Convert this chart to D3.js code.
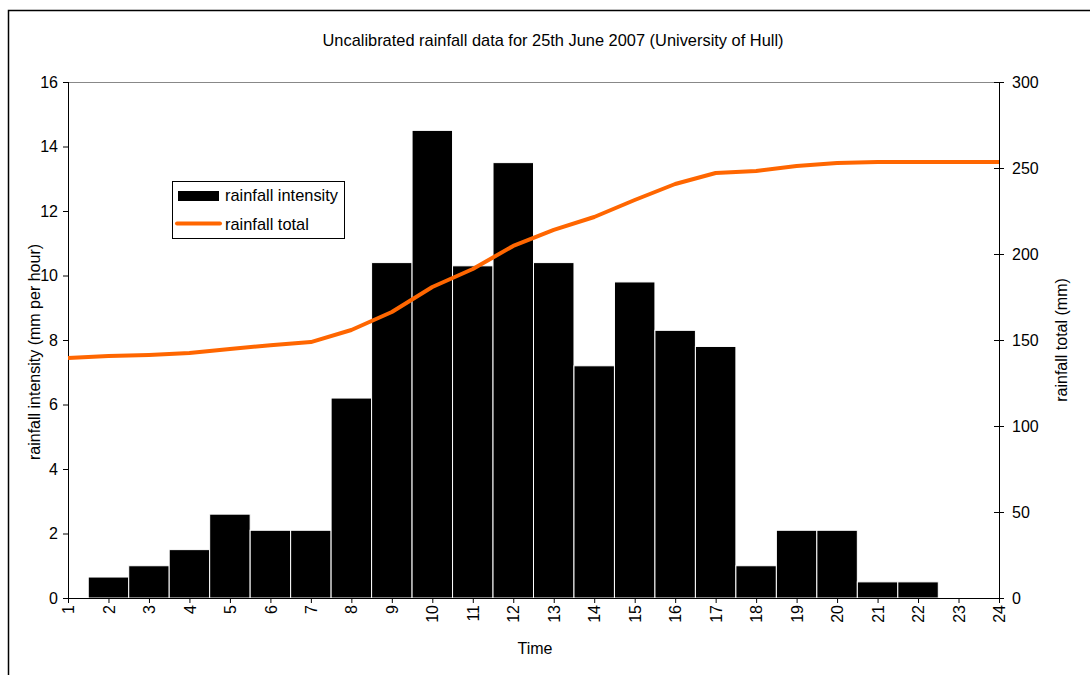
<!DOCTYPE html>
<html><head><meta charset="utf-8">
<script src="https://cdn.jsdelivr.net/npm/d3@7"></script>
<style>body{margin:0;background:#fff}svg{display:block}text{font-family:"Liberation Sans",Arial,sans-serif}</style>
</head><body><svg id="c" width="1090" height="675"></svg>
<script>
const times = d3.range(1, 25);
const intensity = [0, 0.65, 1.0, 1.5, 2.6, 2.1, 2.1, 6.2, 10.4, 14.5, 10.3, 13.5, 10.4, 7.2, 9.8, 8.3, 7.8, 1.0, 2.1, 2.1, 0.5, 0.5, 0, 0];
const total = [139.5, 140.7, 141.3, 142.4, 144.8, 147, 148.8, 155.8, 166.3, 180.8, 191.3, 204.7, 214, 221.5, 231.4, 240.7, 247.1, 248.3, 251.2, 252.9, 253.5, 253.5, 253.5, 253.5];
const leftTicks = [0, 2, 4, 6, 8, 10, 12, 14, 16];
const rightTicks = [0, 50, 100, 150, 200, 250, 300];

const svg = d3.select("#c");
const L = 68, R = 999, T = 82, B = 598;
const x = d3.scaleLinear().domain([1, 24]).range([L, R]);
const yL = d3.scaleLinear().domain([0, 16]).range([B, T]);
const yR = d3.scaleLinear().domain([0, 300]).range([B, T]);
const FS = 16;

// outer frame
svg.append("path").attr("d", `M8.5,675 V10.5 H1090`).attr("fill", "none").attr("stroke", "#000").attr("stroke-width", 1.5);

// title
svg.append("text").attr("x", 553).attr("y", 46).attr("text-anchor", "middle").attr("font-size", 16.4).attr("fill", "#000")
  .text("Uncalibrated rainfall data for 25th June 2007 (University of Hull)");

// top border of plot
svg.append("line").attr("x1", L).attr("x2", R).attr("y1", T + 0.5).attr("y2", T + 0.5).attr("stroke", "#888").attr("stroke-width", 1);

// bars
const bw = x(2) - x(1);
svg.append("g").selectAll("rect").data(times.map((t, i) => ({t, v: intensity[i]})).filter(d => d.v > 0))
  .join("rect")
  .attr("x", d => x(d.t) - bw / 2).attr("width", bw)
  .attr("y", d => yL(d.v)).attr("height", d => B - yL(d.v))
  .attr("fill", "#000").attr("stroke", "#fff").attr("stroke-width", 1);

// left axis
const axL = svg.append("g").attr("transform", `translate(${L},0)`)
  .call(d3.axisLeft(yL).tickValues(leftTicks).tickSize(5).tickPadding(5));
// right axis
const axR = svg.append("g").attr("transform", `translate(${R},0)`)
  .call(d3.axisRight(yR).tickValues(rightTicks).tickSize(5).tickPadding(8));
axR.selectAll(".tick line").attr("x1", -5);
// bottom axis
const axB = svg.append("g").attr("transform", `translate(0,${B})`)
  .call(d3.axisBottom(x).tickValues(times).tickSize(5).tickPadding(4));
axB.selectAll(".tick text").attr("transform", "rotate(-90)").attr("text-anchor", "end")
  .attr("x", -7).attr("y", 0).attr("dy", "0.35em");

[axL, axR, axB].forEach(a => {
  a.select(".domain").attr("stroke", "#000").attr("stroke-width", 1);
  a.selectAll(".tick line").attr("stroke", "#000");
  a.selectAll(".tick text").attr("font-size", FS).attr("fill", "#000").attr("font-family", '"Liberation Sans",Arial,sans-serif');
});
axL.select(".domain").attr("d", `M0.5,${T}V${B}`);
axR.select(".domain").attr("d", `M0.5,${T}V${B}`);
axB.select(".domain").attr("d", `M${L},0.5H${R}`);

// line
svg.append("path").datum(times.map((t, i) => [t, total[i]]))
  .attr("d", d3.line().x(d => x(d[0])).y(d => yR(d[1])))
  .attr("fill", "none").attr("stroke", "#ff6600").attr("stroke-width", 4).attr("stroke-linejoin", "round");

// axis titles
svg.append("text").attr("transform", "translate(40,352) rotate(-90)").attr("text-anchor", "middle")
  .attr("font-size", FS).text("rainfall intensity (mm per hour)");
svg.append("text").attr("transform", "translate(1067,340) rotate(-90)").attr("text-anchor", "middle")
  .attr("font-size", FS).text("rainfall total (mm)");
svg.append("text").attr("x", 535).attr("y", 654).attr("text-anchor", "middle").attr("font-size", FS).text("Time");

// legend
const lg = svg.append("g");
lg.append("rect").attr("x", 172.5).attr("y", 181.5).attr("width", 172).attr("height", 57).attr("fill", "#fff").attr("stroke", "#000").attr("stroke-width", 1);
lg.append("rect").attr("x", 178).attr("y", 191).attr("width", 41).attr("height", 10).attr("fill", "#000");
lg.append("text").attr("x", 225).attr("y", 201).attr("font-size", 16.4).text("rainfall intensity");
lg.append("line").attr("x1", 177).attr("x2", 220).attr("y1", 223.5).attr("y2", 223.5).attr("stroke", "#ff6600").attr("stroke-width", 4).attr("stroke-linecap", "round");
lg.append("text").attr("x", 225).attr("y", 230).attr("font-size", 16.4).text("rainfall total");
</script></body></html>
